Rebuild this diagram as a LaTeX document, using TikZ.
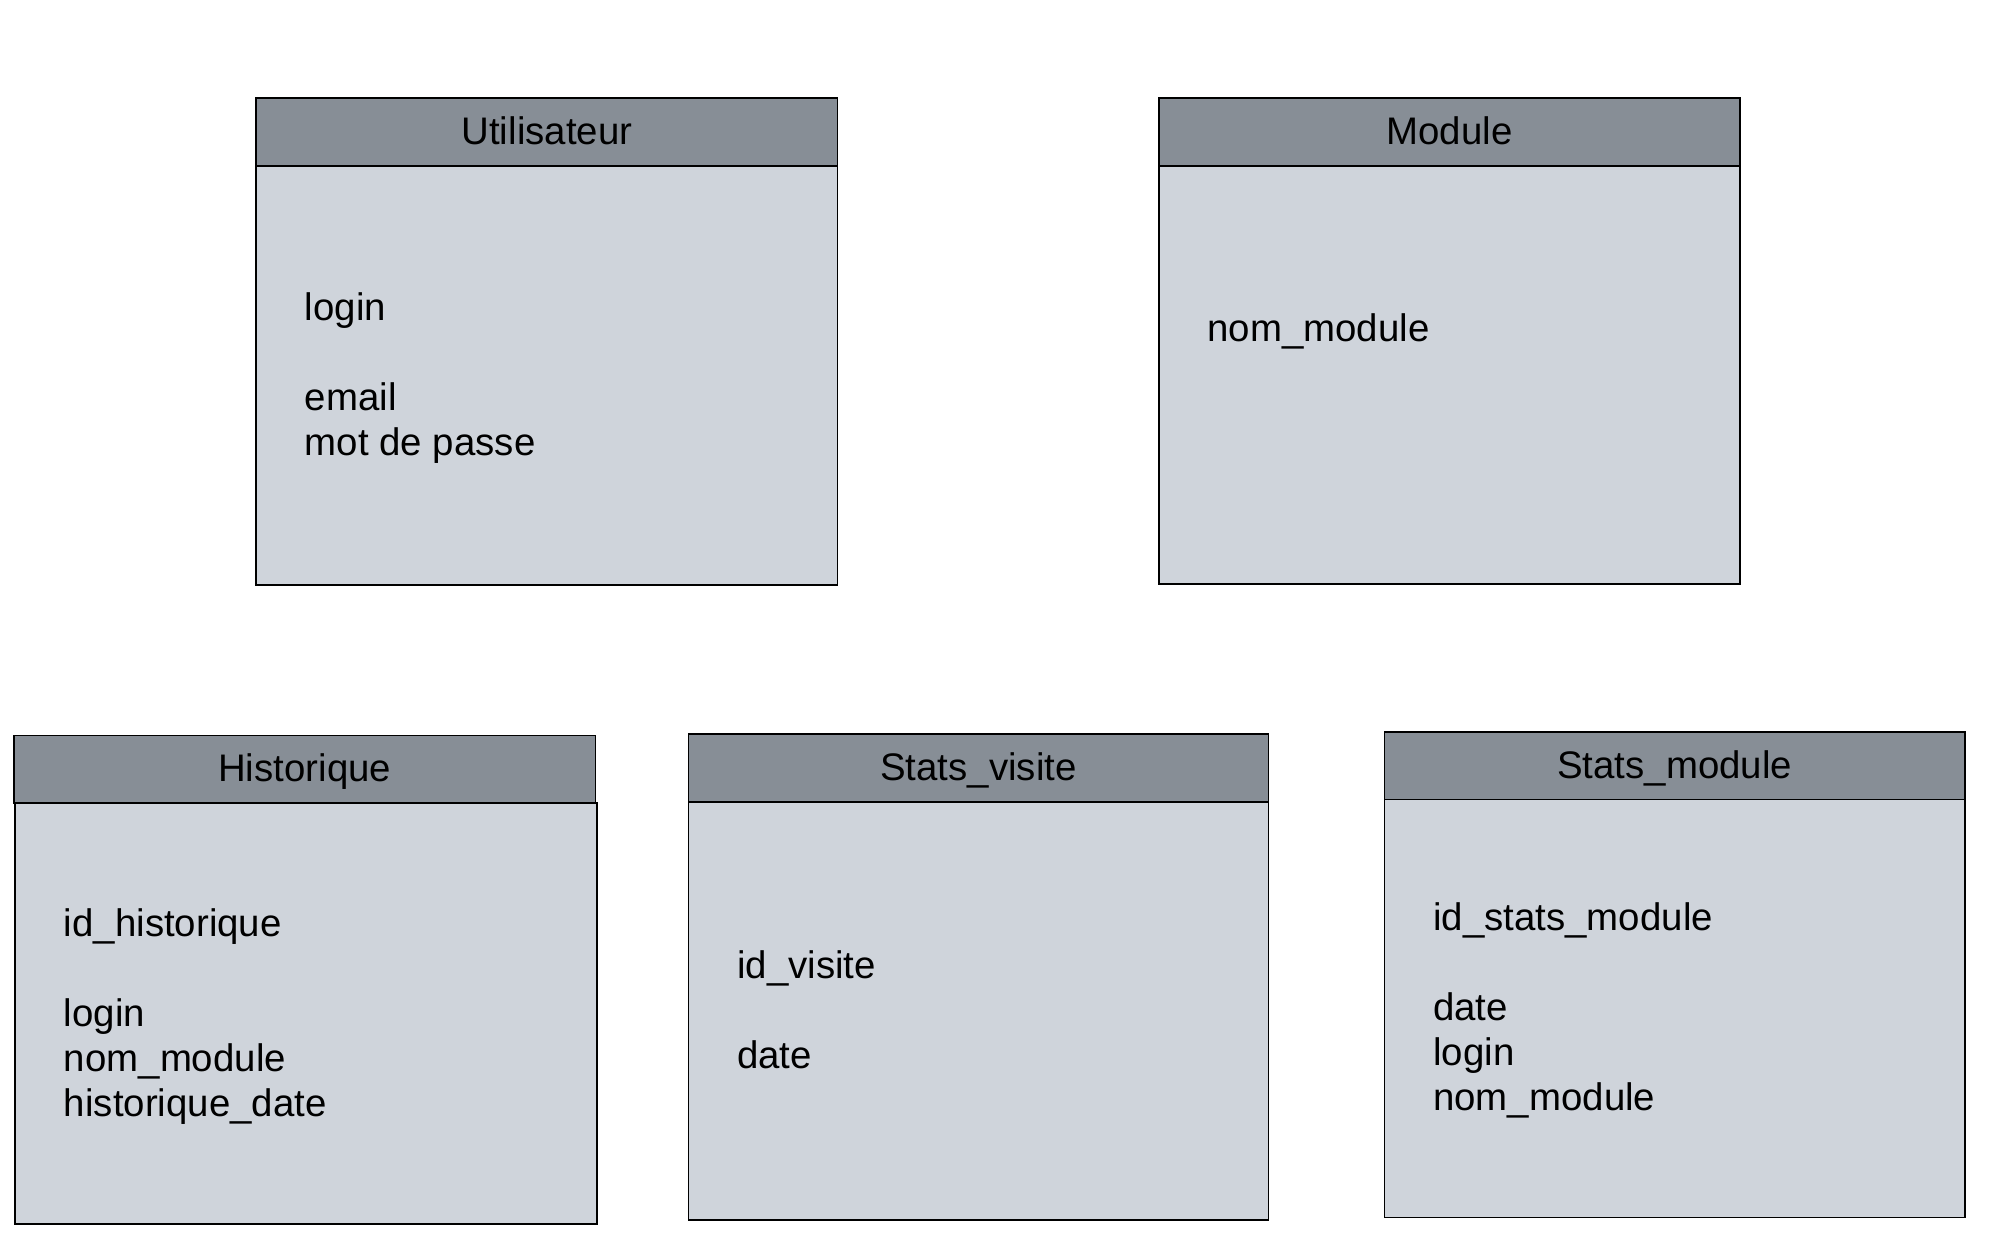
\documentclass[tikz,border=0pt]{standalone}
\usepackage{fontspec}
\setmainfont{Liberation Sans}
\begin{document}
\begin{tikzpicture}[x=0.75pt,y=-0.75pt]
\definecolor{hdrgray}{RGB}{135,142,150}
\definecolor{bodygray}{RGB}{207,212,219}
\tikzset{
  hdrbox/.style={draw=black, fill=hdrgray, line width=1.3pt, inner sep=0pt,
    font=\fontsize{28.8}{34}\selectfont, text height=18.6pt, text depth=0pt},
  bodybox/.style={draw=black, fill=bodygray, line width=1.3pt, inner sep=0pt},
  field/.style={anchor=base west, inner sep=0pt, font=\fontsize{28.8}{34}\selectfont}
}
\useasboundingbox (0,0) rectangle (1998,1239);
\fill[white] (0,0) rectangle (1998,1239);

% Utilisateur
\node[bodybox, minimum width=436pt, minimum height=314.6pt] (ub) at (546.95,375.45) {};
\node[hdrbox, minimum width=436pt, minimum height=50.6pt] (uh) at (546.95,131.95) {Utilisateur};
\node[field] (u1) at (304.7,320) {login};
\node[field] (u2) at (304.7,410) {email};
\node[field] (u3) at (304.7,455) {mot de passe};

% Module
\node[bodybox, minimum width=436pt, minimum height=313.65pt] (mb) at (1449.55,374.8) {};
\node[hdrbox, minimum width=436pt, minimum height=50.6pt] (mh) at (1449.55,131.95) {Module};
\node[field] (m1) at (1207.3,341) {nom\_module};

% Historique
\node[bodybox, minimum width=436pt, minimum height=315.5pt] (hb) at (306,1013.55) {};
\node[hdrbox, minimum width=436pt, minimum height=50.7pt] (hh) at (304.7,769.4) {Historique};
\node[field] (h1) at (63.7,936.7) {id\_historique};
\node[field] (h2) at (63.7,1026.7) {login};
\node[field] (h3) at (63.7,1071.7) {nom\_module};
\node[field] (h4) at (63.7,1116.7) {historique\_date};

% Stats_visite
\node[bodybox, minimum width=435.1pt, minimum height=313.65pt] (vb) at (978.45,1011.0) {};
\node[hdrbox, minimum width=435.1pt, minimum height=50.7pt] (vh) at (978.45,768.1) {Stats\_visite};
\node[field] (v1) at (736.9,978.3) {id\_visite};
\node[field] (v2) at (736.9,1068.3) {date};

% Stats_module
\node[bodybox, minimum width=435.1pt, minimum height=313.6pt] (sb) at (1674.55,1008.45) {};
\node[hdrbox, minimum width=435.1pt, minimum height=50.7pt] (sh) at (1674.55,765.6) {Stats\_module};
\node[field] (s1) at (1433.0,930) {id\_stats\_module};
\node[field] (s2) at (1433.0,1020) {date};
\node[field] (s3) at (1433.0,1065) {login};
\node[field] (s4) at (1433.0,1110) {nom\_module};
\end{tikzpicture}
\end{document}
